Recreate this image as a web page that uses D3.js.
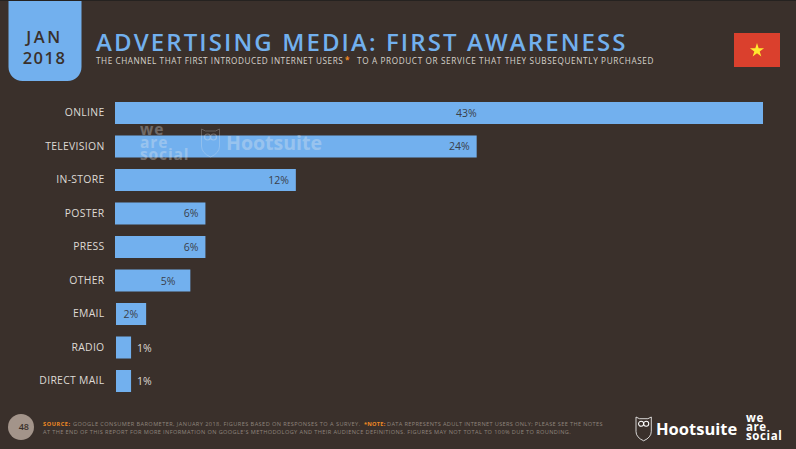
<!DOCTYPE html>
<html><head><meta charset="utf-8">
<script src="https://cdnjs.cloudflare.com/ajax/libs/d3/7.8.5/d3.min.js"></script>
<style>html,body{margin:0;padding:0;background:#3a302b}svg{display:block}text{font-family:"Open Sans","Noto Sans",sans-serif}</style>
</head><body><svg id="c" width="796" height="449"></svg>
<script>
const categories=["ONLINE","TELEVISION","IN-STORE","POSTER","PRESS","OTHER","EMAIL","RADIO","DIRECT MAIL"];
const values=[43,24,12,6,6,5,2,1,1];
const valueLabels=["43%","24%","12%","6%","6%","5%","2%","1%","1%"];
const blue="#72b0ee",bg="#3a302b";
const svg=d3.select("#c");
const text=(x,y,s,size,fill,o={})=>svg.append("text").attr("x",x).attr("y",y).text(s).attr("font-size",size).attr("fill",fill)
  .attr("text-anchor",o.a||"start").attr("font-weight",o.w||400).attr("letter-spacing",o.ls||0).attr("opacity",o.op==null?1:o.op).style("font-family",o.f||null);
svg.append("rect").attr("width",796).attr("height",449).attr("fill",bg);
svg.append("rect").attr("width",796).attr("height",1).attr("fill","#252220");
// date tab
svg.append("path").attr("d","M8.5 1H81.5V67a14 14 0 0 1-14 14H22.5a14 14 0 0 1-14-14Z").attr("fill",blue);
text(44.5,43,"JAN",16.5,"#3a302b",{a:"middle",w:600,ls:2.6});
text(44.5,64,"2018",16.5,"#3a302b",{a:"middle",w:600,ls:1.5});
// titles
text(96,51,"ADVERTISING MEDIA: FIRST AWARENESS",24,blue,{w:600,ls:2.1});
text(96,64,"THE CHANNEL THAT FIRST INTRODUCED INTERNET USERS",8.2,"#d6d2cc",{ls:.56});
text(345,63,"*",8,"#f08a24",{w:700});
text(357,64,"TO A PRODUCT OR SERVICE THAT THEY SUBSEQUENTLY PURCHASED",8.2,"#d6d2cc",{ls:.63});
// flag
svg.append("rect").attr("x",734).attr("y",33).attr("width",46).attr("height",34).attr("fill","#da402d");
svg.append("path").attr("transform","translate(757,50.5)").attr("d",d3.symbol(d3.symbolStar,62)()).attr("fill","#ffe92f");
// scales
const x=d3.scaleLinear().domain([0,43]).range([115,763]);
const y=d3.scaleBand().domain(categories).range([90.5,403.5]).padding(0.343);
const rows=categories.map((c,i)=>({c,v:values[i],l:valueLabels[i]}));
const shift=d=>d.v<=2?1:0; // the smallest bars sit a pixel to the right
svg.append("g").selectAll("rect").data(rows).join("rect")
  .attr("x",d=>x(0)+shift(d)).attr("y",d=>y(d.c)).attr("width",d=>x(d.v)-x(0)).attr("height",y.bandwidth()).attr("fill",blue);
// axis labels
const ax=svg.append("g").attr("transform","translate(104.5,0)").call(d3.axisLeft(y).tickSize(0).tickPadding(0));
ax.select(".domain").remove();
ax.selectAll("text").attr("font-size",10.4).attr("fill","#dedad5").attr("letter-spacing",.3).style("font-family",'"Open Sans"');
// value labels
const labelEnd=d=>d.v===5?x(d.v)-15:Math.min(x(d.v)-7,x(24));
svg.append("g").selectAll("text").data(rows).join("text")
  .attr("x",d=>d.v>=2?labelEnd(d):x(d.v)+7).attr("y",d=>y(d.c)+y.bandwidth()/2+4)
  .attr("text-anchor",d=>d.v>=2?"end":"start").attr("font-size",10.5)
  .attr("fill",d=>d.v>=2?"#3a3f4a":"#dedad5").text(d=>d.l);
// watermark
const wm=svg.append("g").attr("opacity",.3);
[["we",135],["are",148],["social",160]].forEach(([s,yy])=>wm.append("text").attr("x",140).attr("y",yy).attr("font-size",15.5).attr("font-weight",700).attr("letter-spacing",.9).attr("fill","#f0f0f0").text(s));
wm.append("text").attr("x",226).attr("y",150).attr("font-size",19.5).attr("font-weight",700).attr("fill","#f0f0f0").text("Hootsuite");
const owl=(g,tx,ty,sc,col)=>{const o=g.append("g").attr("transform",`translate(${tx},${ty}) scale(${sc})`);
 o.append("path").attr("d","M0 0L4 2H14L18 0V17Q18 24 9 28Q0 24 0 17Z").attr("fill","none").attr("stroke",col).attr("stroke-width",.8/sc);
 o.append("circle").attr("cx",6).attr("cy",8).attr("r",3).attr("fill","none").attr("stroke",col).attr("stroke-width",1.2);
 o.append("circle").attr("cx",12).attr("cy",8).attr("r",3).attr("fill","none").attr("stroke",col).attr("stroke-width",1.2);};
owl(wm,201.5,129,1,"#f0f0f0");
// footer
svg.append("circle").attr("cx",21).attr("cy",427).attr("r",13).attr("fill","#a3948a");
text(18.7,430,"48",9,"#3a302b",{a:"start",w:600});
const f=5.6;
text(43,426,"SOURCE:",f,"#f08a24",{w:700,ls:.55});
text(73,426,"GOOGLE CONSUMER BAROMETER, JANUARY 2018. FIGURES BASED ON RESPONSES TO A SURVEY.",f,"#8f857d",{ls:.43});
text(364,426,"*NOTE:",f,"#f08a24",{w:700,ls:.25});
text(387,426,"DATA REPRESENTS ADULT INTERNET USERS ONLY; PLEASE SEE THE NOTES",f,"#8f857d",{ls:.36});
text(43,434,"AT THE END OF THIS REPORT FOR MORE INFORMATION ON GOOGLE'S METHODOLOGY AND THEIR AUDIENCE DEFINITIONS. FIGURES MAY NOT TOTAL TO 100% DUE TO ROUNDING.",f,"#8f857d",{ls:.39});
// logos
owl(svg,636,417,.85,"#fff");
text(656,434.5,"Hootsuite",16.5,"#fff",{w:700});
const lg=[["we",422],["are",431],["social",440]];
lg.forEach(([s,yy])=>text(746,yy,s,11.5,"#fff",{w:700,ls:.6}));
</script></body></html>
